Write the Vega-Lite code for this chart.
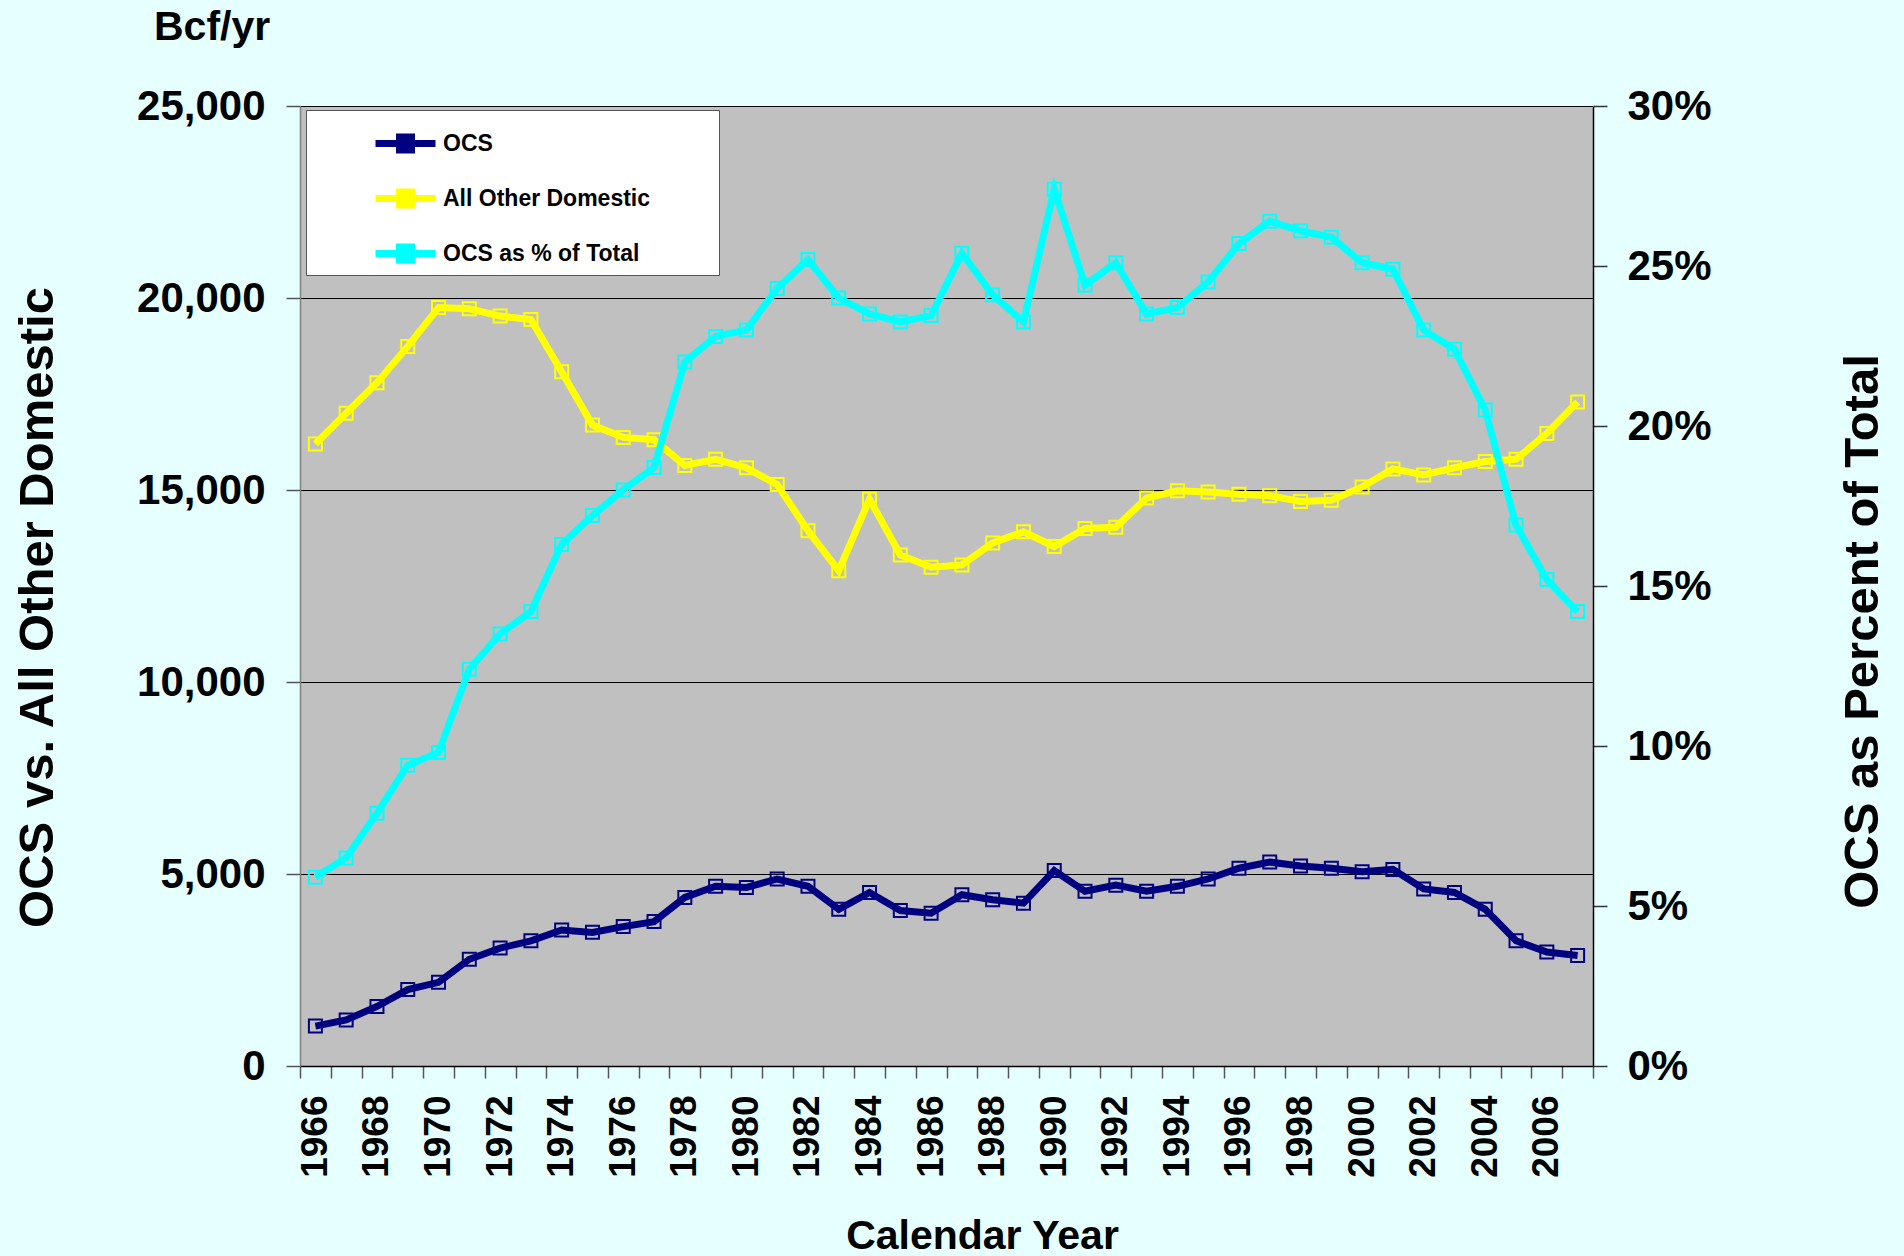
{
  "$schema": "https://vega.github.io/schema/vega-lite/v6.json",
  "autosize": {"type": "none"},
  "width": 1293,
  "height": 960,
  "padding": {"left": 300, "top": 106, "right": 311, "bottom": 190},
  "background": "#E6FFFF",
  "title": {
    "text": "Bcf/yr",
    "anchor": "start",
    "frame": "group",
    "dx": -146,
    "offset": 4,
    "baseline": "alphabetic",
    "font": "Liberation Sans",
    "fontSize": 41,
    "fontWeight": "bold",
    "color": "#000000"
  },
  "data": {
    "values": [
      {"year": 1966, "ocs": 1040, "other": 16200, "pct": 5.9},
      {"year": 1967, "ocs": 1200, "other": 17000, "pct": 6.5},
      {"year": 1968, "ocs": 1550, "other": 17790, "pct": 7.9},
      {"year": 1969, "ocs": 1990, "other": 18740, "pct": 9.4},
      {"year": 1970, "ocs": 2180, "other": 19750, "pct": 9.8},
      {"year": 1971, "ocs": 2780, "other": 19720, "pct": 12.4},
      {"year": 1972, "ocs": 3070, "other": 19530, "pct": 13.5},
      {"year": 1973, "ocs": 3260, "other": 19440, "pct": 14.2},
      {"year": 1974, "ocs": 3540, "other": 18080, "pct": 16.3},
      {"year": 1975, "ocs": 3480, "other": 16690, "pct": 17.2},
      {"year": 1976, "ocs": 3630, "other": 16370, "pct": 18.0},
      {"year": 1977, "ocs": 3760, "other": 16310, "pct": 18.7},
      {"year": 1978, "ocs": 4390, "other": 15640, "pct": 22.0},
      {"year": 1979, "ocs": 4680, "other": 15800, "pct": 22.8},
      {"year": 1980, "ocs": 4650, "other": 15580, "pct": 23.0},
      {"year": 1981, "ocs": 4870, "other": 15140, "pct": 24.3},
      {"year": 1982, "ocs": 4680, "other": 13940, "pct": 25.2},
      {"year": 1983, "ocs": 4080, "other": 12900, "pct": 24.0},
      {"year": 1984, "ocs": 4520, "other": 14760, "pct": 23.5},
      {"year": 1985, "ocs": 4050, "other": 13310, "pct": 23.25},
      {"year": 1986, "ocs": 3980, "other": 12990, "pct": 23.45},
      {"year": 1987, "ocs": 4460, "other": 13050, "pct": 25.4},
      {"year": 1988, "ocs": 4330, "other": 13620, "pct": 24.1},
      {"year": 1989, "ocs": 4240, "other": 13910, "pct": 23.25},
      {"year": 1990, "ocs": 5090, "other": 13530, "pct": 27.4},
      {"year": 1991, "ocs": 4550, "other": 14000, "pct": 24.4},
      {"year": 1992, "ocs": 4710, "other": 14030, "pct": 25.1},
      {"year": 1993, "ocs": 4550, "other": 14790, "pct": 23.5},
      {"year": 1994, "ocs": 4680, "other": 14980, "pct": 23.7},
      {"year": 1995, "ocs": 4870, "other": 14950, "pct": 24.5},
      {"year": 1996, "ocs": 5150, "other": 14890, "pct": 25.7},
      {"year": 1997, "ocs": 5310, "other": 14850, "pct": 26.4},
      {"year": 1998, "ocs": 5210, "other": 14700, "pct": 26.1},
      {"year": 1999, "ocs": 5150, "other": 14730, "pct": 25.9},
      {"year": 2000, "ocs": 5060, "other": 15080, "pct": 25.1},
      {"year": 2001, "ocs": 5120, "other": 15550, "pct": 24.9},
      {"year": 2002, "ocs": 4610, "other": 15390, "pct": 23.0},
      {"year": 2003, "ocs": 4520, "other": 15580, "pct": 22.4},
      {"year": 2004, "ocs": 4080, "other": 15740, "pct": 20.5},
      {"year": 2005, "ocs": 3260, "other": 15800, "pct": 16.9},
      {"year": 2006, "ocs": 2970, "other": 16470, "pct": 15.2},
      {"year": 2007, "ocs": 2880, "other": 17290, "pct": 14.2}
    ]
  },
  "encoding": {
    "x": {
      "field": "year",
      "type": "ordinal",
      "scale": {"type": "band", "paddingInner": 0, "paddingOuter": 0},
      "axis": {
        "title": "Calendar Year",
        "titleX": 682,
        "titleY": 182,
        "titleBaseline": "alphabetic",
        "titleAlign": "center",
        "titleFontSize": 41,
        "labelExpr": "floor(datum.value / 2) * 2 == datum.value ? datum.label : ''",
        "labelAngle": -90,
        "labelFontSize": 37,
        "labelPadding": 17,
        "tickBand": "extent",
        "tickSize": 12,
        "tickColor": "#555555",
        "domainColor": "#000000",
        "grid": false
      }
    },
    "color": {
      "field": "series",
      "type": "nominal",
      "scale": {
        "domain": ["ocs", "other", "pct"],
        "range": ["#000080", "#FFFF00", "#00FFFF"]
      },
      "legend": {
        "title": null,
        "orient": "none",
        "legendX": 6,
        "legendY": 4,
        "padding": 0,
        "fillColor": "#FFFFFF",
        "strokeColor": "#555555",
        "symbolType": "M-1,0H1M-0.2,-0.22H0.2V0.22H-0.2Z",
        "symbolSize": 3600,
        "symbolStrokeWidth": 7,
        "symbolOffset": 66,
        "labelOffset": 4,
        "labelFontSize": 23,
        "labelFont": "Liberation Sans",
        "labelFontWeight": "bold",
        "labelColor": "#000000",
        "labelLimit": 600,
        "labelExpr": "(datum.value == 'ocs' ? 'OCS' : datum.value == 'other' ? 'All Other Domestic' : 'OCS as \u0025 of Total') + '\u2800\u2800\u2800\u2800'",
        "rowPadding": 0
      }
    }
  },
  "layer": [
    {
      "transform": [{"fold": ["ocs", "other"], "as": ["series", "value"]}],
      "mark": {
        "type": "line",
        "strokeWidth": 7,
        "point": {"shape": "square", "filled": false, "size": 169, "strokeWidth": 2}
      },
      "encoding": {
        "y": {
          "field": "value",
          "type": "quantitative",
          "scale": {"domain": [0, 25000], "nice": false},
          "axis": {
            "title": "OCS vs. All Other Domestic",
            "titleFontSize": 49,
            "titleAngle": 270,
            "titleX": -263,
            "titleY": 501,
            "titleAlign": "center",
            "titleBaseline": "middle",
            "values": [0, 5000, 10000, 15000, 20000, 25000],
            "format": ",d",
            "labelFontSize": 42,
            "labelPadding": 21,
            "tickSize": 14,
            "tickColor": "#555555",
            "domainColor": "#808080",
            "grid": true,
            "gridColor": "#000000",
            "gridWidth": 1
          }
        }
      }
    },
    {
      "transform": [{"fold": ["pct"], "as": ["series", "value"]}],
      "mark": {
        "type": "line",
        "strokeWidth": 7,
        "point": {"shape": "square", "filled": false, "size": 169, "strokeWidth": 2}
      },
      "encoding": {
        "y": {
          "field": "value",
          "type": "quantitative",
          "scale": {"domain": [0, 30], "nice": false},
          "axis": {
            "orient": "right",
            "title": "OCS as Percent of Total",
            "titleFontSize": 49,
            "titleAngle": 270,
            "titleX": 269,
            "titleY": 525,
            "titleAlign": "center",
            "titleBaseline": "middle",
            "values": [0, 5, 10, 15, 20, 25, 30],
            "labelExpr": "datum.value + '\u0025'",
            "labelFontSize": 42,
            "labelPadding": 20,
            "tickSize": 14,
            "tickColor": "#333333",
            "domainColor": "#000000",
            "grid": false
          }
        }
      }
    }
  ],
  "resolve": {"scale": {"y": "independent"}, "axis": {"y": "independent"}},
  "config": {
    "view": {"fill": "#C0C0C0", "stroke": null},
    "font": "Liberation Sans",
    "axis": {
      "labelFont": "Liberation Sans",
      "labelFontWeight": "bold",
      "labelColor": "#000000",
      "titleFont": "Liberation Sans",
      "titleFontWeight": "bold",
      "titleColor": "#000000",
      "domainWidth": 1.5,
      "tickWidth": 1.5,
      "labelOverlap": false
    }
  }
}
